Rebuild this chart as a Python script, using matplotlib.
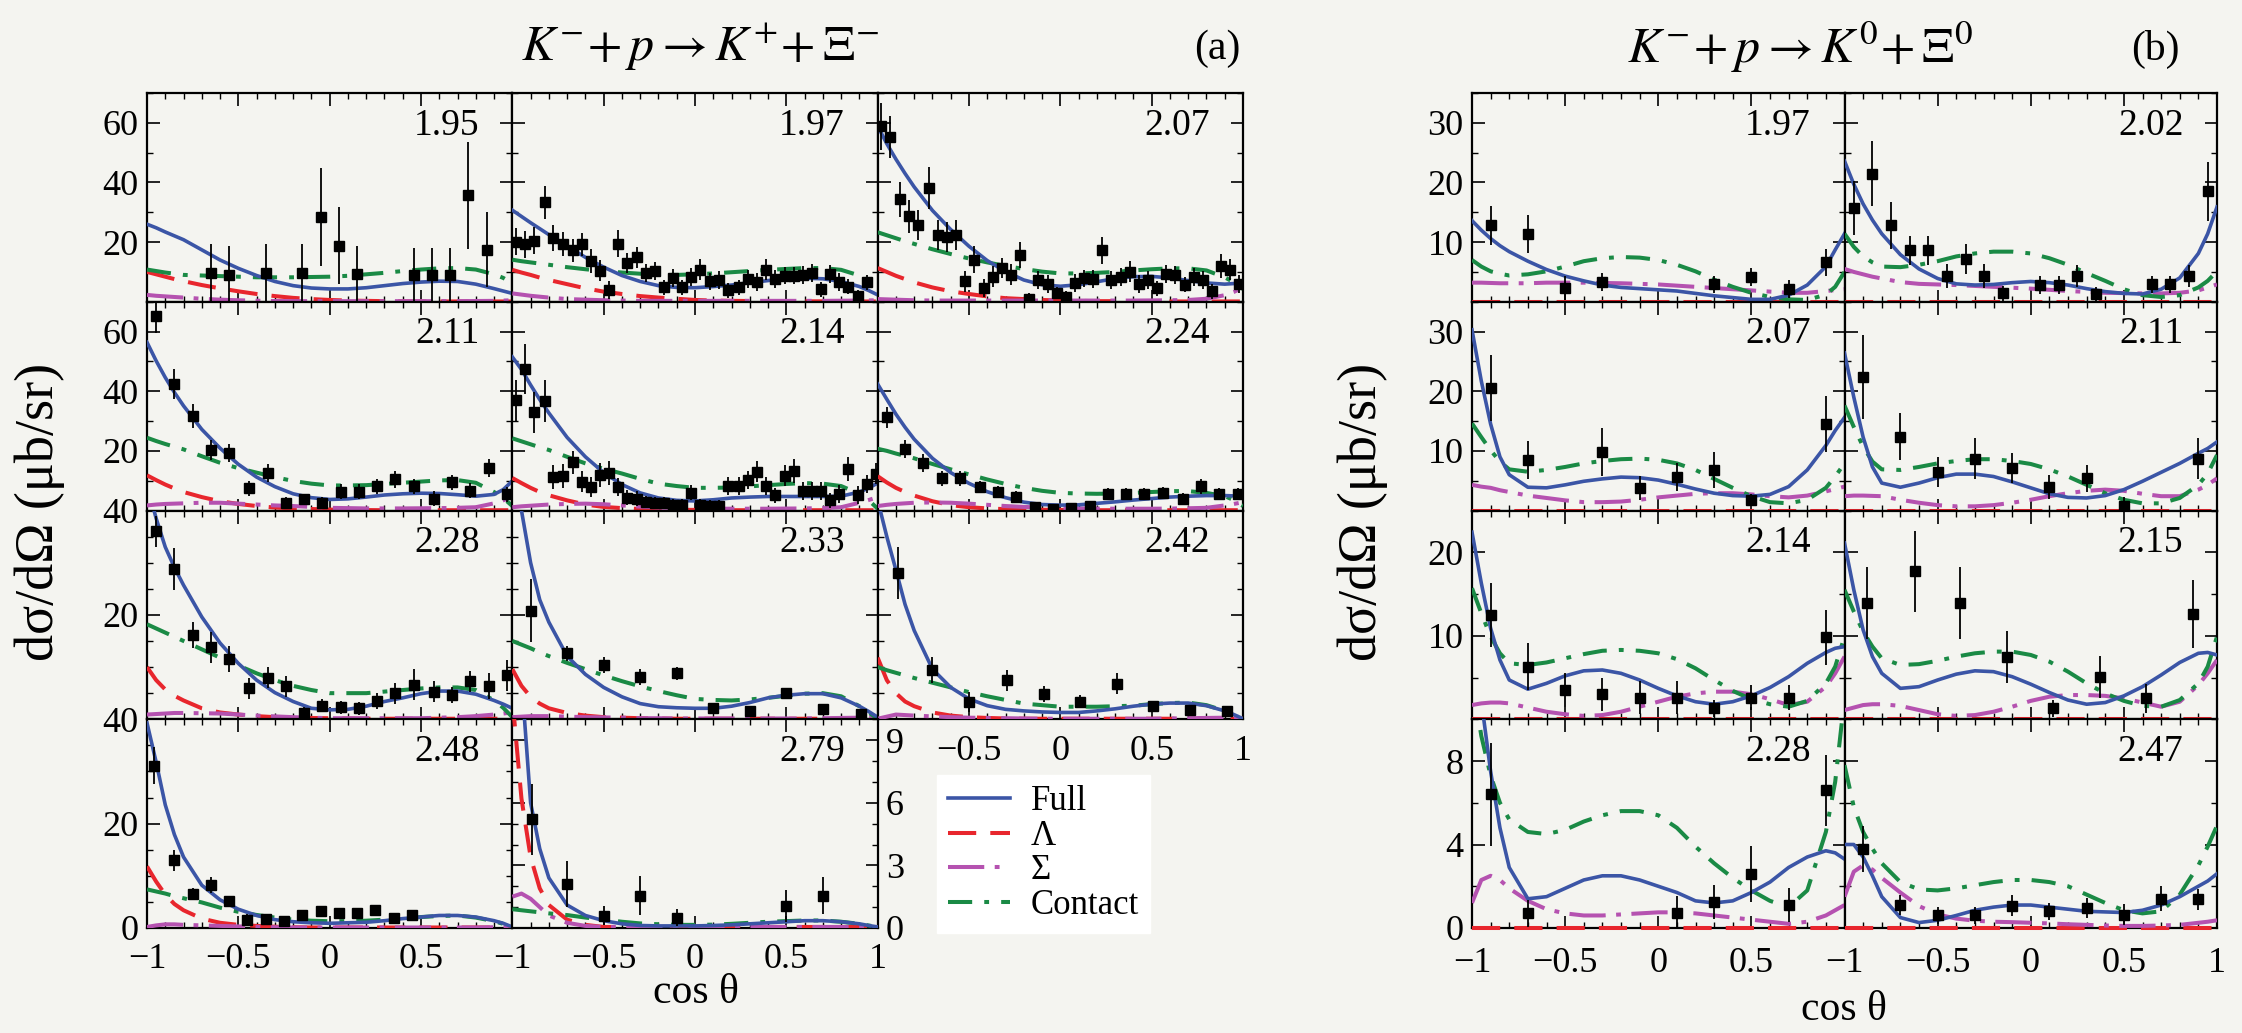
import matplotlib
matplotlib.use('Agg')
import matplotlib.pyplot as plt
from matplotlib.ticker import MultipleLocator

plt.rcParams['font.family'] = ['Liberation Serif', 'DejaVu Serif']
plt.rcParams['mathtext.fontset'] = 'stix'

# common cos(theta) grid on which the model curves were read
cos_grid = [-1, -0.95, -0.9, -0.85, -0.8, -0.7, -0.6, -0.5, -0.4, -0.3, -0.2, -0.1,
            0, 0.1, 0.2, 0.3, 0.4, 0.5, 0.6, 0.7, 0.8, 0.9, 0.95, 1]

# ---------------- panel (a): K- p -> K+ Xi- ----------------
a_energy = ['1.95', '1.97', '2.07', '2.11', '2.14', '2.24', '2.28', '2.33', '2.42', '2.48', '2.79']

a_full = [
    [26.0, 24.8, 23.4, 22.1, 20.8, 17.4, 14.0, 11.2, 8.8, 6.8, 5.4, 4.6, 4.3, 4.3, 4.7, 5.4, 6.1, 6.6, 6.9, 6.8, 5.9, 4.4, 3.6, 2.8],
    [30.7, 28.6, 26.5, 24.5, 22.5, 18.6, 14.9, 11.6, 8.8, 6.8, 5.4, 4.8, 4.7, 5.1, 5.6, 6.4, 7.1, 7.7, 7.9, 7.7, 6.8, 5.1, 3.8, 2.3],
    [58.9, 53.0, 47.8, 43.0, 38.5, 30.6, 24.2, 18.6, 13.8, 10.1, 7.3, 5.7, 5.2, 5.7, 6.7, 7.8, 8.4, 8.5, 8.0, 7.1, 6.3, 5.9, 6.1, 6.7],
    [56.4, 50.2, 44.6, 39.6, 35.1, 27.2, 20.9, 15.5, 11.2, 8.0, 5.6, 4.3, 3.7, 3.9, 4.5, 5.2, 5.6, 5.8, 5.7, 5.3, 4.8, 5.4, 7.0, 9.9],
    [51.5, 47.3, 42.1, 37.2, 32.7, 24.5, 18.0, 12.7, 8.7, 5.9, 4.2, 3.4, 3.2, 3.6, 4.2, 4.5, 4.7, 4.7, 4.7, 4.7, 4.8, 6.2, 7.5, 9.2],
    [42.4, 37.3, 32.3, 27.9, 23.9, 17.5, 12.7, 9.1, 6.3, 4.3, 2.8, 2.0, 1.8, 1.9, 2.4, 2.9, 3.5, 4.0, 4.5, 4.8, 5.0, 5.0, 4.9, 4.8],
    [45.0, 38.5, 33.0, 29.1, 25.7, 19.6, 14.6, 10.7, 7.5, 5.1, 3.4, 2.1, 1.8, 1.9, 2.5, 3.4, 4.1, 4.9, 5.4, 5.4, 4.8, 3.6, 2.9, 2.1],
    [52.0, 40.0, 30.0, 22.9, 18.6, 12.1, 8.6, 6.1, 4.3, 3.0, 2.4, 2.2, 2.1, 2.1, 2.5, 3.2, 4.1, 4.6, 4.9, 4.9, 4.1, 2.5, 1.5, 0.4],
    [42.0, 35.0, 28.6, 22.0, 17.0, 9.6, 6.1, 3.9, 2.6, 1.9, 1.6, 1.4, 1.3, 1.3, 1.6, 2.0, 2.5, 2.9, 3.1, 3.1, 2.6, 1.6, 0.9, 0.1],
    [39.3, 31.8, 23.6, 17.9, 13.6, 8.2, 5.4, 3.6, 2.4, 1.6, 1.2, 1.0, 0.9, 1.0, 1.1, 1.4, 1.8, 2.1, 2.4, 2.4, 2.1, 1.4, 0.9, 0.2],
    [20.0, 12.0, 6.0, 3.8, 2.4, 1.1, 0.6, 0.35, 0.2, 0.12, 0.1, 0.1, 0.1, 0.12, 0.15, 0.2, 0.25, 0.3, 0.35, 0.35, 0.3, 0.2, 0.12, 0.05],
]
a_lam = [
    [10.0, 9.2, 8.4, 7.6, 6.9, 5.6, 4.5, 3.5, 2.6, 1.9, 1.3, 0.9, 0.6, 0.4, 0.3, 0.2, 0.15, 0.12, 0.1, 0.1, 0.1, 0.1, 0.1, 0.1],
    [10.7, 9.8, 9.0, 8.1, 7.3, 5.9, 4.5, 3.4, 2.6, 1.9, 1.4, 1.0, 0.6, 0.4, 0.3, 0.25, 0.2, 0.2, 0.15, 0.15, 0.1, 0.1, 0.1, 0.1],
    [11.3, 10.0, 8.7, 7.6, 6.5, 4.8, 3.5, 2.6, 1.8, 1.2, 0.9, 0.6, 0.4, 0.3, 0.2, 0.2, 0.15, 0.15, 0.1, 0.1, 0.1, 0.1, 0.1, 0.1],
    [11.8, 10.2, 8.7, 7.4, 6.2, 4.5, 3.1, 2.2, 1.5, 1.0, 0.7, 0.5, 0.3, 0.2, 0.15, 0.1, 0.1, 0.1, 0.1, 0.1, 0.1, 0.1, 0.1, 0.1],
    [10.9, 9.2, 7.6, 6.2, 5.1, 3.4, 2.0, 1.2, 0.8, 0.5, 0.35, 0.25, 0.2, 0.15, 0.1, 0.1, 0.1, 0.1, 0.1, 0.1, 0.1, 0.1, 0.1, 0.1],
    [11.5, 9.4, 7.6, 6.2, 5.0, 3.1, 1.8, 1.1, 0.7, 0.45, 0.3, 0.25, 0.2, 0.15, 0.1, 0.1, 0.1, 0.1, 0.1, 0.1, 0.1, 0.1, 0.1, 0.1],
    [10.0, 7.5, 5.7, 4.5, 3.6, 2.1, 1.3, 0.9, 0.6, 0.4, 0.3, 0.25, 0.2, 0.15, 0.1, 0.1, 0.1, 0.1, 0.1, 0.1, 0.1, 0.1, 0.1, 0.1],
    [9.6, 6.4, 4.3, 3.0, 2.1, 1.2, 0.7, 0.4, 0.3, 0.2, 0.15, 0.1, 0.1, 0.1, 0.1, 0.1, 0.1, 0.1, 0.1, 0.1, 0.1, 0.1, 0.1, 0.1],
    [11.8, 7.5, 5.0, 3.4, 2.5, 1.3, 0.7, 0.4, 0.25, 0.15, 0.1, 0.1, 0.1, 0.1, 0.1, 0.1, 0.1, 0.1, 0.1, 0.1, 0.1, 0.1, 0.1, 0.1],
    [11.8, 8.9, 6.4, 4.6, 3.4, 1.8, 1.0, 0.6, 0.4, 0.25, 0.15, 0.1, 0.1, 0.1, 0.1, 0.1, 0.1, 0.1, 0.1, 0.1, 0.1, 0.1, 0.1, 0.1],
    [11.0, 6.2, 3.4, 1.9, 1.1, 0.4, 0.15, 0.05, 0.05, 0.05, 0.05, 0.05, 0.05, 0.05, 0.05, 0.05, 0.05, 0.05, 0.05, 0.05, 0.05, 0.05, 0.05, 0.05],
]
a_sig = [
    [2.3, 2.0, 1.8, 1.6, 1.4, 1.0, 0.7, 0.5, 0.35, 0.25, 0.2, 0.2, 0.2, 0.2, 0.2, 0.2, 0.2, 0.2, 0.2, 0.2, 0.25, 0.3, 0.4, 0.5],
    [2.8, 2.4, 2.0, 1.7, 1.4, 0.9, 0.7, 0.5, 0.4, 0.3, 0.3, 0.3, 0.3, 0.3, 0.3, 0.3, 0.3, 0.3, 0.3, 0.3, 0.35, 0.4, 0.45, 0.5],
    [0.9, 0.8, 0.7, 0.6, 0.5, 0.4, 0.4, 0.4, 0.4, 0.4, 0.4, 0.4, 0.4, 0.4, 0.4, 0.4, 0.4, 0.45, 0.5, 0.6, 1.0, 2.2, 3.3, 4.8],
    [1.7, 2.0, 2.2, 2.3, 2.4, 2.6, 2.6, 2.3, 2.0, 1.7, 1.5, 1.2, 0.9, 0.8, 0.7, 0.7, 0.7, 0.75, 0.8, 0.9, 1.1, 2.4, 3.4, 4.6],
    [1.1, 1.4, 1.6, 1.8, 2.0, 2.2, 2.3, 2.1, 1.7, 1.3, 1.0, 0.8, 0.6, 0.6, 0.6, 0.6, 0.6, 0.65, 0.7, 0.8, 1.1, 2.6, 3.5, 4.5],
    [1.5, 1.9, 2.2, 2.4, 2.6, 2.7, 2.6, 2.3, 1.9, 1.5, 1.2, 1.0, 0.8, 0.7, 0.65, 0.6, 0.6, 0.6, 0.65, 0.75, 0.9, 1.7, 2.2, 2.8],
    [0.9, 1.0, 1.1, 1.2, 1.2, 1.15, 1.1, 0.9, 0.7, 0.55, 0.4, 0.3, 0.2, 0.2, 0.2, 0.2, 0.2, 0.2, 0.3, 0.4, 0.6, 0.9, 1.1, 1.3],
    [0.4, 0.5, 0.6, 0.6, 0.6, 0.5, 0.4, 0.35, 0.3, 0.2, 0.2, 0.15, 0.15, 0.15, 0.15, 0.15, 0.15, 0.15, 0.15, 0.2, 0.25, 0.3, 0.35, 0.4],
    [0.1, 0.5, 0.9, 0.8, 0.7, 0.55, 0.4, 0.3, 0.25, 0.2, 0.15, 0.1, 0.1, 0.1, 0.1, 0.1, 0.1, 0.1, 0.15, 0.2, 0.25, 0.3, 0.4, 0.5],
    [0.2, 0.5, 0.7, 0.7, 0.6, 0.5, 0.4, 0.3, 0.2, 0.15, 0.1, 0.1, 0.1, 0.1, 0.1, 0.1, 0.1, 0.1, 0.1, 0.1, 0.1, 0.15, 0.15, 0.2],
    [1.5, 1.65, 1.4, 1.0, 0.6, 0.25, 0.1, 0.05, 0.05, 0.05, 0.05, 0.05, 0.05, 0.05, 0.05, 0.05, 0.05, 0.05, 0.05, 0.05, 0.05, 0.05, 0.05, 0.05],
]
a_con = [
    [10.8, 10.3, 9.8, 9.4, 9.0, 8.8, 8.6, 8.4, 8.2, 8.2, 8.2, 8.3, 8.4, 8.7, 9.2, 9.7, 10.3, 10.8, 11.2, 11.3, 10.8, 9.2, 8.0, 6.2],
    [14.1, 13.6, 13.2, 12.8, 12.4, 11.6, 10.9, 10.3, 9.8, 9.4, 9.0, 9.0, 9.2, 9.5, 9.9, 10.3, 10.7, 11.0, 11.3, 11.3, 10.7, 8.8, 7.2, 5.1],
    [23.3, 22.3, 21.3, 20.3, 19.4, 17.6, 16.0, 14.5, 13.2, 12.0, 11.0, 10.1, 9.5, 9.5, 9.7, 10.0, 10.5, 10.9, 11.2, 11.2, 10.5, 8.2, 6.5, 4.3],
    [24.4, 23.3, 22.3, 21.4, 20.5, 18.2, 16.0, 14.2, 12.7, 11.2, 9.9, 9.0, 8.4, 8.4, 8.5, 8.9, 9.3, 9.7, 10.1, 10.2, 9.3, 6.2, 4.2, 1.5],
    [24.2, 23.2, 22.2, 21.2, 20.3, 18.0, 15.8, 14.0, 12.4, 10.6, 9.0, 8.2, 7.6, 7.6, 7.7, 8.1, 8.5, 8.9, 9.2, 9.0, 8.2, 5.6, 3.5, 0.6],
    [20.7, 20.0, 19.1, 18.3, 17.5, 15.6, 13.8, 12.1, 10.4, 8.9, 7.6, 6.6, 5.9, 5.7, 5.6, 5.7, 5.9, 6.2, 6.5, 6.5, 5.9, 4.8, 3.5, 1.5],
    [18.2, 17.4, 16.6, 15.8, 15.0, 13.4, 11.8, 10.3, 8.8, 7.5, 6.4, 5.6, 5.0, 5.0, 5.0, 5.3, 5.6, 5.9, 6.1, 6.1, 5.6, 3.6, 2.2, 0.4],
    [15.0, 14.3, 13.6, 12.8, 12.1, 10.8, 9.6, 8.4, 7.3, 6.3, 5.4, 4.6, 3.9, 3.7, 3.6, 3.8, 4.1, 4.5, 4.9, 5.0, 4.4, 2.5, 1.3, 0.1],
    [10.0, 9.4, 8.9, 8.4, 7.9, 7.0, 6.1, 5.2, 4.4, 3.7, 3.0, 2.7, 2.4, 2.4, 2.4, 2.5, 2.6, 2.9, 3.1, 3.2, 2.7, 1.6, 0.9, 0.0],
    [7.4, 7.0, 6.6, 6.1, 5.7, 4.9, 3.9, 3.1, 2.5, 2.0, 1.6, 1.4, 1.3, 1.3, 1.4, 1.6, 1.8, 2.1, 2.3, 2.4, 2.0, 1.3, 0.8, 0.1],
    [0.9, 0.85, 0.8, 0.75, 0.7, 0.62, 0.5, 0.4, 0.3, 0.22, 0.18, 0.15, 0.15, 0.16, 0.2, 0.25, 0.3, 0.33, 0.36, 0.36, 0.3, 0.2, 0.12, 0.05],
]

a_px = [
    [-0.65, -0.55, -0.35, -0.15, -0.05, 0.05, 0.15, 0.46, 0.56, 0.66, 0.76, 0.86],
    [-0.98, -0.93, -0.88, -0.82, -0.78, -0.72, -0.67, -0.62, -0.57, -0.52, -0.47, -0.42, -0.37, -0.32, -0.27, -0.22,
     -0.17, -0.12, -0.07, -0.02, 0.03, 0.08, 0.13, 0.18, 0.24, 0.29, 0.34, 0.39, 0.44, 0.49, 0.54, 0.59, 0.64, 0.69,
     0.74, 0.79, 0.84, 0.89, 0.94],
    [-0.98, -0.93, -0.88, -0.83, -0.78, -0.72, -0.67, -0.62, -0.57, -0.52, -0.47, -0.42, -0.37, -0.32, -0.27, -0.22,
     -0.17, -0.12, -0.07, -0.02, 0.03, 0.08, 0.13, 0.18, 0.23, 0.28, 0.33, 0.38, 0.43, 0.48, 0.53, 0.58, 0.63, 0.68,
     0.73, 0.78, 0.83, 0.88, 0.93, 0.98],
    [-0.95, -0.85, -0.75, -0.65, -0.55, -0.44, -0.34, -0.24, -0.14, -0.04, 0.06, 0.16, 0.26, 0.36, 0.46, 0.57, 0.67, 0.77, 0.87, 0.97],
    [-0.98, -0.93, -0.88, -0.82, -0.78, -0.72, -0.67, -0.62, -0.57, -0.52, -0.47, -0.42, -0.37, -0.32, -0.27, -0.22,
     -0.17, -0.12, -0.07, -0.02, 0.03, 0.08, 0.13, 0.18, 0.24, 0.29, 0.34, 0.39, 0.44, 0.49, 0.54, 0.59, 0.64, 0.69,
     0.74, 0.79, 0.84, 0.89, 0.94, 0.99],
    [-0.95, -0.85, -0.75, -0.65, -0.55, -0.44, -0.34, -0.24, -0.14, -0.04, 0.06, 0.16, 0.26, 0.36, 0.46, 0.56, 0.67, 0.77, 0.87, 0.97],
    [-0.95, -0.85, -0.75, -0.65, -0.55, -0.44, -0.34, -0.24, -0.14, -0.04, 0.06, 0.16, 0.26, 0.36, 0.46, 0.57, 0.67, 0.77, 0.87, 0.97],
    [-0.9, -0.7, -0.5, -0.3, -0.1, 0.1, 0.3, 0.5, 0.7, 0.91],
    [-0.89, -0.7, -0.5, -0.29, -0.09, 0.11, 0.31, 0.51, 0.71, 0.91],
    [-0.96, -0.85, -0.75, -0.65, -0.55, -0.45, -0.35, -0.25, -0.15, -0.05, 0.05, 0.15, 0.25, 0.35, 0.45],
    [-0.89, -0.7, -0.5, -0.3, -0.1, 0.5, 0.7],
]
a_py = [
    [9.8, 9.1, 9.8, 9.8, 28.4, 18.8, 9.2, 9.1, 9.1, 9.1, 35.7, 17.5],
    [20.1, 19.2, 20.5, 33.3, 21.4, 19.4, 17.2, 19.2, 13.8, 10.4, 3.9, 19.5, 13.0, 14.9, 9.6, 10.4, 4.8, 8.1, 4.8, 8.2,
     10.7, 6.8, 7.3, 3.9, 4.8, 7.6, 6.5, 10.7, 7.6, 8.8, 8.8, 9.0, 9.6, 4.2, 9.2, 6.5, 5.1, 2.0, 6.5],
    [58.8, 55.2, 34.3, 28.7, 25.6, 38.2, 22.5, 21.6, 22.5, 6.8, 14.1, 4.6, 8.4, 11.3, 9.0, 15.7, 0.9, 7.3, 5.9, 2.8,
     1.7, 6.2, 7.8, 7.6, 17.2, 7.3, 8.2, 10.1, 5.9, 7.3, 4.5, 9.3, 9.0, 5.7, 8.2, 7.3, 3.5, 12.1, 10.7, 5.9],
    [65.1, 42.4, 31.7, 20.3, 19.2, 7.4, 12.6, 2.6, 3.7, 2.6, 6.3, 6.3, 8.2, 10.4, 8.2, 3.9, 9.5, 6.7, 14.3, 5.4],
    [36.9, 47.4, 32.9, 36.6, 11.3, 11.5, 16.1, 9.6, 7.9, 11.8, 12.7, 7.9, 4.3, 3.9, 2.8, 2.6, 2.6, 2.0, 1.7, 6.0,
     2.0, 1.5, 1.5, 8.2, 8.2, 10.1, 13.0, 8.2, 5.1, 11.6, 13.3, 6.5, 6.5, 6.5, 3.4, 5.4, 13.8, 5.1, 8.8, 12.4],
    [31.2, 20.5, 16.0, 10.8, 10.8, 7.8, 6.2, 4.6, 1.2, 0.5, 0.9, 1.5, 5.4, 5.4, 5.4, 5.9, 3.9, 8.2, 5.4, 5.4],
    [36.0, 28.8, 16.1, 13.8, 11.5, 5.9, 8.0, 6.3, 1.2, 2.6, 2.3, 2.1, 3.5, 5.0, 6.6, 5.3, 4.7, 7.3, 6.3, 8.4],
    [20.8, 12.6, 10.4, 8.1, 8.8, 2.1, 1.6, 5.0, 2.0, 1.0],
    [28.1, 9.5, 3.3, 7.5, 4.9, 3.4, 6.8, 2.5, 1.7, 1.5],
    [31.1, 13.0, 6.6, 8.3, 5.2, 1.6, 1.8, 1.4, 2.5, 3.3, 2.9, 2.9, 3.4, 2.0, 2.5],
    [5.2, 2.1, 0.58, 1.55, 0.5, 1.05, 1.55],
]
a_perr = [
    [9.5, 9.5, 9.5, 9.5, 16.5, 13.0, 9.5, 9.0, 9.0, 9.0, 18.0, 12.5],
    [4.5, 4.5, 4.5, 5.6, 4.5, 4.0, 4.0, 4.0, 4.0, 3.5, 3.0, 4.5, 3.5, 3.5, 3.0, 3.0, 2.5, 3.0, 2.5, 3.0, 3.5, 3.0,
     3.0, 2.5, 2.5, 3.0, 3.0, 3.5, 3.0, 3.0, 3.0, 3.0, 3.0, 2.5, 3.0, 3.0, 2.5, 2.0, 2.5],
    [8.0, 7.0, 6.0, 5.5, 5.0, 7.0, 5.0, 5.0, 5.0, 3.5, 4.5, 3.0, 3.5, 3.5, 3.5, 4.5, 2.0, 3.0, 3.0, 2.0, 2.0, 3.0,
     3.0, 3.0, 4.5, 3.0, 3.0, 3.5, 3.0, 3.0, 2.5, 3.0, 3.0, 2.5, 3.0, 3.0, 2.5, 4.0, 3.5, 3.0],
    [5.5, 5.0, 4.0, 3.5, 3.0, 2.5, 3.0, 2.0, 2.0, 2.0, 2.5, 2.5, 2.5, 3.0, 2.5, 2.5, 2.5, 2.5, 3.0, 2.5],
    [7.0, 8.5, 7.0, 7.0, 4.0, 4.0, 4.0, 3.5, 3.5, 4.0, 4.0, 3.0, 2.5, 2.5, 2.0, 2.0, 2.0, 2.0, 2.0, 2.5, 2.0, 2.0,
     2.0, 3.0, 3.0, 3.0, 3.5, 3.0, 2.5, 3.5, 4.0, 3.0, 3.0, 3.0, 2.5, 3.0, 4.0, 3.0, 3.0, 3.5],
    [3.5, 3.0, 3.0, 2.5, 2.5, 2.0, 2.0, 2.0, 1.5, 1.5, 1.5, 1.5, 2.0, 2.0, 2.0, 2.0, 2.0, 2.5, 2.0, 2.0],
    [3.0, 4.0, 2.5, 3.0, 2.5, 2.0, 2.0, 2.0, 1.2, 1.2, 1.2, 1.2, 1.5, 2.0, 3.0, 2.0, 1.5, 2.0, 2.5, 3.0],
    [6.0, 1.5, 1.5, 1.5, 1.2, 0.8, 0.8, 0.8, 0.8, 0.8],
    [5.0, 2.5, 2.0, 2.0, 1.5, 1.2, 2.0, 1.0, 1.0, 1.0],
    [3.5, 2.0, 1.0, 1.5, 1.0, 1.0, 0.8, 0.8, 0.8, 0.8, 0.8, 0.8, 0.8, 0.8, 0.8],
    [1.7, 1.1, 0.45, 0.95, 0.4, 0.75, 0.9],
]

# ---------------- panel (b): K- p -> K0 Xi0 ----------------
b_energy = ['1.97', '2.02', '2.07', '2.11', '2.14', '2.15', '2.28', '2.47']

b_full = [
    [13.6, 12.0, 10.6, 9.4, 8.4, 6.8, 5.4, 4.3, 3.5, 2.8, 2.4, 2.2, 2.0, 1.8, 1.4, 1.0, 0.7, 0.4, 0.4, 1.1, 2.8, 5.9, 8.7, 11.4],
    [23.6, 19.7, 16.4, 13.7, 11.4, 7.9, 5.5, 3.9, 3.0, 2.8, 2.9, 3.2, 3.4, 3.2, 2.8, 2.2, 1.7, 1.4, 1.3, 2.1, 4.0, 8.1, 11.4, 15.9],
    [30.3, 21.7, 14.5, 9.0, 6.0, 3.9, 3.8, 4.3, 4.9, 5.3, 5.6, 5.5, 5.1, 4.4, 3.6, 2.9, 2.5, 2.4, 2.7, 4.0, 6.8, 10.9, 13.4, 15.6],
    [26.4, 19.0, 12.3, 7.3, 4.6, 3.9, 4.6, 5.5, 6.1, 6.1, 5.7, 4.8, 3.8, 2.8, 2.2, 2.1, 2.5, 3.5, 4.9, 6.4, 7.9, 9.6, 10.4, 11.5],
    [22.4, 16.3, 10.9, 7.1, 4.7, 3.6, 4.3, 5.2, 5.8, 5.9, 5.5, 4.7, 3.7, 2.8, 2.1, 1.8, 2.1, 2.8, 3.8, 5.1, 6.7, 8.0, 8.5, 8.7],
    [21.1, 15.5, 10.7, 7.5, 5.5, 3.7, 3.9, 4.7, 5.4, 5.8, 5.7, 5.1, 4.2, 3.2, 2.3, 1.8, 2.0, 2.8, 3.9, 5.3, 6.8, 7.9, 8.0, 7.7],
    [14.0, 10.9, 7.5, 4.8, 2.9, 1.4, 1.5, 1.9, 2.3, 2.5, 2.5, 2.3, 2.0, 1.7, 1.3, 1.2, 1.3, 1.7, 2.2, 2.9, 3.4, 3.7, 3.6, 3.3],
    [4.0, 4.0, 3.4, 2.5, 1.5, 0.5, 0.26, 0.37, 0.6, 0.85, 1.0, 1.1, 1.1, 1.0, 0.9, 0.8, 0.77, 0.74, 0.85, 1.1, 1.5, 2.0, 2.25, 2.6],
]
# Lambda contribution in (b) sits on the zero line everywhere
b_lam_x = [-1, 1]
b_lam = [0.0, 0.0]
b_sig = [
    [3.2, 3.2, 3.15, 3.1, 3.1, 3.1, 3.2, 3.2, 3.2, 3.15, 3.1, 3.0, 2.9, 2.7, 2.5, 2.3, 2.1, 1.9, 1.7, 1.5, 1.5, 1.8, 1.95, 2.1],
    [5.5, 5.0, 4.6, 4.2, 3.9, 3.3, 3.0, 2.9, 2.8, 2.65, 2.5, 2.35, 2.2, 2.0, 1.8, 1.65, 1.5, 1.45, 1.4, 1.4, 1.5, 1.9, 2.4, 2.9],
    [4.3, 4.0, 3.8, 3.4, 3.1, 2.5, 2.1, 1.7, 1.4, 1.4, 1.5, 1.8, 2.2, 2.5, 2.8, 2.9, 2.9, 2.7, 2.4, 2.2, 2.5, 3.2, 3.6, 4.0],
    [2.4, 2.5, 2.5, 2.45, 2.4, 1.8, 1.3, 0.9, 0.7, 0.7, 0.9, 1.3, 1.8, 2.4, 2.9, 3.3, 3.5, 3.3, 2.8, 2.4, 2.4, 3.5, 4.3, 5.4],
    [1.7, 1.9, 2.0, 2.0, 1.9, 1.4, 0.9, 0.6, 0.4, 0.5, 0.9, 1.5, 2.1, 2.7, 3.1, 3.3, 3.3, 3.0, 2.4, 1.7, 2.1, 3.9, 5.5, 7.5],
    [1.1, 1.4, 1.7, 1.8, 1.8, 1.6, 1.1, 0.6, 0.4, 0.5, 0.9, 1.5, 2.2, 2.7, 2.9, 2.9, 2.8, 2.5, 2.0, 1.5, 2.1, 4.1, 5.5, 7.1],
    [1.2, 2.3, 2.5, 2.3, 1.9, 1.3, 0.9, 0.7, 0.6, 0.6, 0.65, 0.7, 0.75, 0.75, 0.7, 0.6, 0.5, 0.4, 0.3, 0.2, 0.3, 0.6, 0.85, 1.1],
    [1.5, 2.7, 3.0, 2.8, 2.4, 1.7, 1.05, 0.65, 0.45, 0.35, 0.3, 0.28, 0.25, 0.22, 0.18, 0.15, 0.12, 0.1, 0.1, 0.12, 0.15, 0.25, 0.3, 0.37],
]
b_con = [
    [7.0, 5.9, 5.1, 4.7, 4.4, 4.6, 5.1, 5.9, 6.8, 7.3, 7.5, 7.4, 7.0, 6.2, 5.1, 3.7, 2.5, 1.5, 0.8, 0.4, 0.3, 1.2, 2.5, 5.0],
    [11.4, 9.2, 7.6, 6.6, 5.9, 5.8, 6.2, 6.8, 7.6, 8.1, 8.4, 8.4, 8.1, 7.3, 6.2, 4.8, 3.5, 2.1, 1.1, 0.8, 1.1, 2.4, 3.5, 5.1],
    [14.6, 12.3, 10.1, 8.2, 6.9, 6.5, 6.8, 7.3, 7.9, 8.3, 8.6, 8.7, 8.5, 7.9, 6.8, 5.3, 3.8, 2.4, 1.4, 1.2, 1.8, 3.8, 5.7, 7.9],
    [17.6, 14.0, 10.7, 8.2, 6.9, 6.8, 7.3, 7.9, 8.3, 8.6, 8.6, 8.3, 7.8, 6.9, 5.7, 4.3, 2.9, 1.8, 1.2, 1.2, 2.1, 4.3, 6.2, 9.3],
    [15.7, 12.7, 9.9, 7.9, 6.7, 6.5, 6.8, 7.3, 7.8, 8.2, 8.3, 8.2, 7.9, 7.2, 6.1, 4.7, 3.4, 2.4, 1.8, 1.5, 2.2, 4.3, 6.3, 9.9],
    [15.5, 12.9, 10.5, 8.7, 7.3, 6.5, 6.6, 7.0, 7.5, 7.9, 8.1, 8.1, 7.7, 6.9, 5.7, 4.3, 3.1, 2.2, 1.6, 1.5, 2.3, 4.3, 6.3, 9.9],
    [12.0, 9.2, 7.3, 6.0, 5.2, 4.6, 4.5, 4.7, 5.1, 5.4, 5.6, 5.6, 5.4, 4.8, 3.9, 3.1, 2.4, 1.8, 1.3, 1.0, 1.8, 4.6, 7.0, 11.0],
    [7.8, 5.8, 4.6, 3.8, 3.1, 2.2, 1.85, 1.8, 1.9, 2.05, 2.2, 2.3, 2.3, 2.2, 2.0, 1.6, 1.2, 0.85, 0.7, 0.8, 1.6, 3.0, 3.9, 4.9],
]
b_px = [
    [-0.9, -0.7, -0.5, -0.3, 0.3, 0.5, 0.7, 0.9],
    [-0.95, -0.85, -0.75, -0.65, -0.55, -0.45, -0.35, -0.25, -0.15, 0.05, 0.15, 0.25, 0.35, 0.65, 0.75, 0.85, 0.95],
    [-0.9, -0.7, -0.3, -0.1, 0.1, 0.3, 0.5, 0.9],
    [-0.9, -0.7, -0.5, -0.3, -0.1, 0.1, 0.3, 0.5, 0.9],
    [-0.9, -0.7, -0.5, -0.3, -0.1, 0.1, 0.3, 0.5, 0.7, 0.9],
    [-0.88, -0.62, -0.38, -0.13, 0.12, 0.37, 0.62, 0.87],
    [-0.9, -0.7, 0.1, 0.3, 0.5, 0.7, 0.9],
    [-0.9, -0.7, -0.5, -0.3, -0.1, 0.1, 0.3, 0.5, 0.7, 0.9],
]
b_py = [
    [12.8, 11.3, 2.3, 3.3, 2.9, 4.2, 2.2, 6.6],
    [15.7, 21.5, 12.8, 8.6, 8.6, 4.3, 7.2, 4.3, 1.4, 2.8, 2.8, 4.3, 1.3, 2.9, 2.9, 4.3, 18.5],
    [20.5, 8.5, 9.8, 3.8, 5.6, 6.8, 1.7, 14.5],
    [22.4, 12.4, 6.5, 8.7, 7.1, 3.9, 5.4, 0.7, 8.7],
    [12.5, 6.3, 3.5, 3.0, 2.6, 2.6, 1.3, 2.6, 2.6, 9.8],
    [13.9, 17.7, 13.9, 7.5, 1.3, 5.1, 2.5, 12.6],
    [6.4, 0.7, 0.74, 1.25, 2.6, 1.1, 6.6],
    [3.8, 1.1, 0.6, 0.6, 1.06, 0.8, 0.96, 0.64, 1.4, 1.37],
]
b_perr = [
    [3.3, 3.2, 2.0, 1.5, 1.5, 1.5, 1.5, 2.3],
    [4.5, 5.4, 4.0, 2.5, 2.5, 2.0, 2.5, 2.0, 1.2, 1.5, 1.5, 1.8, 1.2, 1.5, 1.5, 1.8, 5.0],
    [5.5, 3.2, 4.0, 2.0, 2.3, 3.0, 1.0, 4.7],
    [7.0, 4.0, 2.5, 3.5, 2.5, 2.0, 2.3, 1.5, 3.5],
    [3.8, 2.8, 2.0, 2.0, 2.0, 2.0, 1.0, 1.5, 1.5, 3.3],
    [4.3, 4.9, 4.3, 3.1, 1.0, 2.5, 1.7, 4.1],
    [2.45, 0.65, 0.8, 0.8, 1.35, 0.8, 1.7],
    [1.1, 0.5, 0.4, 0.4, 0.5, 0.4, 0.5, 0.5, 0.6, 0.5],
]

# ---------------- styling ----------------
BG = '#f4f4f0'
C_FULL = '#3b55a6'
C_LAM = '#e8262d'
C_SIG = '#b552b0'
C_CON = '#1a8a45'
LS_LAM = (0, (7, 3.5))
LS_SIG = (0, (9, 2.6, 1.2, 2.6))
LS_CON = (0, (6, 3, 1.2, 3))

W, H = 2242, 1033
fig = plt.figure(figsize=(W / 100, H / 100), dpi=100)
fig.patch.set_facecolor(BG)


def fx(p):
    return p / W


def fy(p):
    return 1 - p / H


TOP = 93
ROW_H = (928 - 93) / 4
XT = [-1, -0.5, 0, 0.5, 1]
XT_LAB = ['\u22121', '\u22120.5', '0', '0.5', '1']


def make_axes(left, colw, r, c):
    ax = fig.add_axes([fx(left + c * colw), fy(TOP + (r + 1) * ROW_H), colw / W, ROW_H / H])
    ax.set_facecolor(BG)
    for s in ax.spines.values():
        s.set_linewidth(1.6)
    ax.set_xlim(-1, 1)
    ax.set_xticks(XT)
    ax.xaxis.set_minor_locator(MultipleLocator(0.1))
    ax.tick_params(which='both', direction='in', top=True, right=True,
                   labelsize=26, labelbottom=False, labelleft=False)
    ax.tick_params(which='major', length=9, width=1.2)
    ax.tick_params(which='minor', length=4.5, width=1.0)
    ax.tick_params(axis='y', pad=6)
    return ax


def draw(ax, lam_x, lam, sig, con, full, px, py, pe, energy):
    ax.plot(lam_x, lam, color=C_LAM, ls=LS_LAM, lw=2.9, zorder=3, clip_on=(len(lam) > 2))
    ax.plot(cos_grid, sig, color=C_SIG, ls=LS_SIG, lw=2.9, zorder=3)
    ax.plot(cos_grid, con, color=C_CON, ls=LS_CON, lw=2.9, zorder=3)
    ax.plot(cos_grid, full, color=C_FULL, ls='-', lw=2.6, zorder=3)
    ax.errorbar(px, py, yerr=pe, fmt='s', color='black', ms=7, elinewidth=1.3,
                capsize=0, zorder=4)
    ax.text(0.91, 0.845, energy, transform=ax.transAxes, ha='right', va='center', fontsize=27)


# panel (a)
a_ymax = [70, 70, 40, 40]
a_yt = [[0, 20, 40, 60], [0, 20, 40, 60], [0, 20, 40], [0, 20, 40]]
a_ylab = [['', '20', '40', '60'], ['', '20', '40', '60'], ['', '20', '40'], ['0', '20', '40']]
a_minor = [10, 10, 5, 5]
A_LEFT, A_COLW = 147, (1243 - 147) / 3

for i, e in enumerate(a_energy):
    r, c = divmod(i, 3)
    ax = make_axes(A_LEFT, A_COLW, r, c)
    if e == '2.79':
        ax.set_ylim(0, 10)
        ax.set_yticks([0, 3, 6, 9])
        ax.yaxis.set_minor_locator(MultipleLocator(1))
        ax.set_yticklabels(['0', '3', '6', '9'])
        ax.tick_params(axis='y', labelright=True, labelleft=False)
    else:
        ax.set_ylim(0, a_ymax[r])
        ax.set_yticks(a_yt[r])
        ax.yaxis.set_minor_locator(MultipleLocator(a_minor[r]))
        ax.set_yticklabels(a_ylab[r])
        if c == 0:
            ax.tick_params(axis='y', labelleft=True)
    if e in ('2.48', '2.79', '2.42'):
        labs = list(XT_LAB)
        if e == '2.48':
            labs[-1] = ''
        if e == '2.42':
            labs[0] = ''
        ax.set_xticklabels(labs)
        ax.tick_params(axis='x', labelbottom=True, pad=11)
    draw(ax, cos_grid, a_lam[i], a_sig[i], a_con[i], a_full[i],
         a_px[i], a_py[i], a_perr[i], e)
    if i == 0:
        legend_handles = ax.get_lines()[:4]

# panel (b)
b_ymax = [35, 35, 25, 10]
b_yt = [[0, 10, 20, 30], [0, 10, 20, 30], [0, 10, 20], [0, 4, 8]]
b_ylab = [['', '10', '20', '30'], ['', '10', '20', '30'], ['', '10', '20'], ['0', '4', '8']]
b_minor = [5, 5, 5, 2]
B_LEFT, B_COLW = 1472, (2217 - 1472) / 2

for i, e in enumerate(b_energy):
    r, c = divmod(i, 2)
    ax = make_axes(B_LEFT, B_COLW, r, c)
    ax.set_ylim(0, b_ymax[r])
    ax.set_yticks(b_yt[r])
    ax.yaxis.set_minor_locator(MultipleLocator(b_minor[r]))
    ax.set_yticklabels(b_ylab[r])
    if c == 0:
        ax.tick_params(axis='y', labelleft=True)
    if r == 3:
        labs = list(XT_LAB)
        if c == 0:
            labs[-1] = ''
        ax.set_xticklabels(labs)
        ax.tick_params(axis='x', labelbottom=True, pad=14)
    draw(ax, b_lam_x, b_lam, b_sig[i], b_con[i], b_full[i],
         b_px[i], b_py[i], b_perr[i], e)

# titles and axis labels
fig.text(fx(700), fy(47), r'$K^{-}\!+p\rightarrow K^{+}\!+\mathit{\Xi}^{-}$', ha='center', va='center', fontsize=36)
fig.text(fx(1217), fy(49), '(a)', ha='center', va='center', fontsize=30)
fig.text(fx(1800), fy(47), r'$K^{-}\!+p\rightarrow K^{0}\!+\mathit{\Xi}^{0}$', ha='center', va='center', fontsize=36)
fig.text(fx(2155), fy(49), '(b)', ha='center', va='center', fontsize=30)

ylab = 'd\u03c3/d\u03a9 (\u03bcb/sr)'
fig.text(fx(40), fy(512), ylab, rotation=90, ha='center', va='center', fontsize=39)
fig.text(fx(1363), fy(512), ylab, rotation=90, ha='center', va='center', fontsize=39)
fig.text(fx(696), fy(993), 'cos \u03b8', ha='center', va='center', fontsize=30)
fig.text(fx(1844), fy(1010), 'cos \u03b8', ha='center', va='center', fontsize=30)

# legend in the empty cell of panel (a)
lam_h, sig_h, con_h, full_h = legend_handles
fig.legend([full_h, lam_h, sig_h, con_h], ['Full', '\u039b', '\u03a3', 'Contact'],
           loc='lower left', bbox_to_anchor=(fx(920), fy(950)), fontsize=25,
           frameon=True, fancybox=False, facecolor='white', edgecolor='white',
           framealpha=1, handlelength=1.8, labelspacing=0.05, borderpad=0.3,
           handletextpad=0.6)

fig.savefig('out.png', dpi=100, facecolor=BG)
